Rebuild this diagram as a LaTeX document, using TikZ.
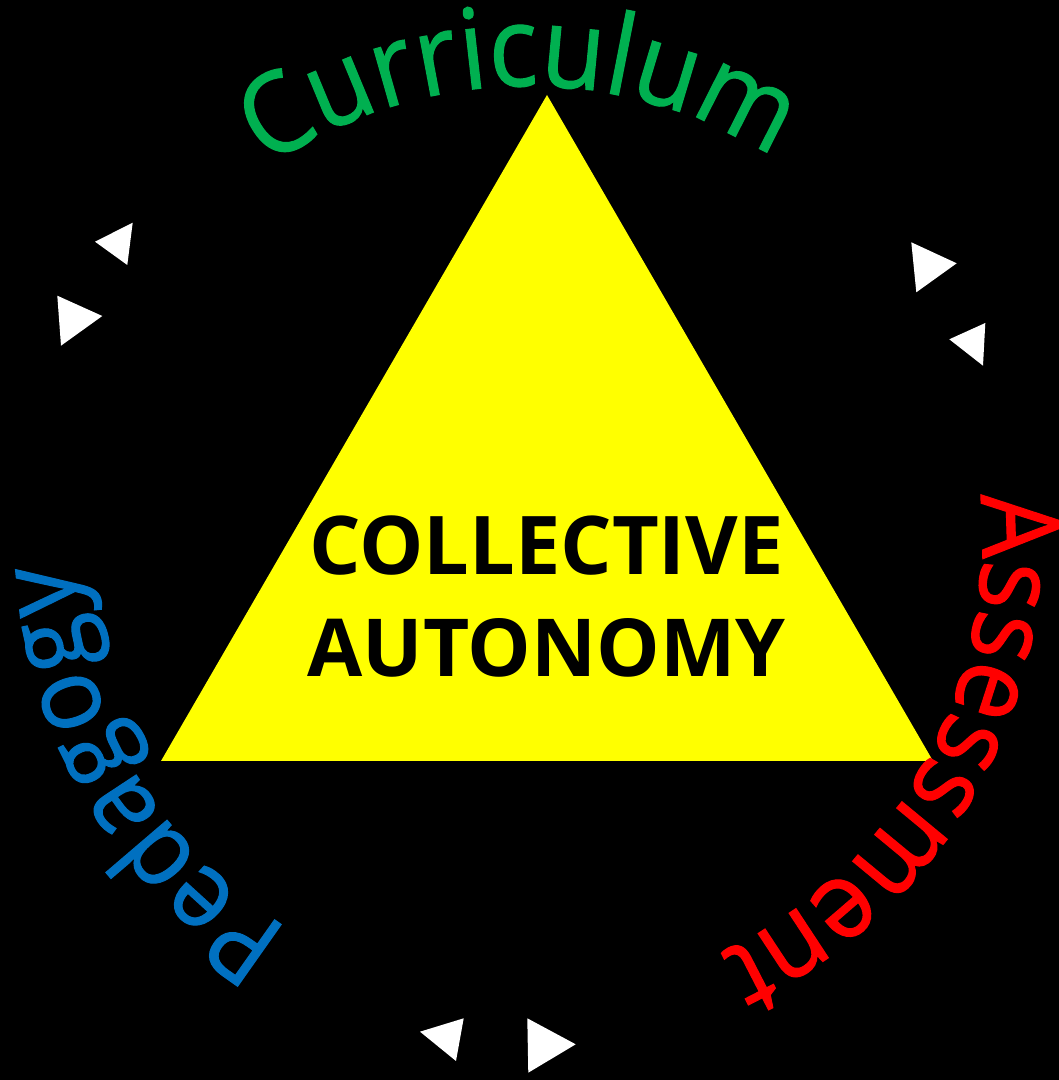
\documentclass[tikz,border=0pt]{standalone}
\usepackage{fontspec}
\setmainfont{Open Sans}
\newfontfamily\arcfont[FakeStretch=0.92,FakeBold=1]{Open Sans}
\usetikzlibrary{decorations.text,calc}
\definecolor{cgreen}{RGB}{0,176,80}
\definecolor{cred}{RGB}{255,0,0}
\definecolor{cblue}{RGB}{0,112,192}
\definecolor{cyellow}{RGB}{255,255,0}
\tikzset{
  arrowtip/.style={fill=white,draw=none},
  centertext/.style={font=\bfseries\fontsize{81}{85}\selectfont,text=black,anchor=base,inner sep=0pt}
}
\begin{document}
\begin{tikzpicture}[x=1pt,y=1pt]
\fill[black] (0,0) rectangle (1059,1080);
\useasboundingbox (0,0) rectangle (1059,1080);
\coordinate (C) at (527,539);
% yellow triangle
\fill[cyellow] (547,985) -- (161,319) -- (933,319) -- cycle;
\node[centertext] (t1) at (546.5,505) {COLLECTIVE};
\node[centertext,font=\bfseries\fontsize{80}{85}\selectfont] (t2) at (546.5,403) {AUTONOMY};
% curved texts
\path[decorate,decoration={text along path,text align=center,
   text={|\arcfont\fontsize{112}{116}\selectfont\color{cgreen}|Curriculum}}]
   ($(C)+(151:455)$) arc[start angle=151,end angle=31,radius=455pt];
\path[decorate,decoration={text along path,text align=center,
   text={|\arcfont\fontsize{110}{114}\selectfont\color{cred}|Assessment}}]
   ($(C)+(30.4:455)$) arc[start angle=30.4,end angle=-89.6,radius=455pt];
\path[decorate,decoration={text along path,text align=center,
   text={|\arcfont\fontsize{106}{110}\selectfont\color{cblue}|Pedagogy}}]
   ($(C)+(-89.3:455)$) arc[start angle=-89.3,end angle=-209.3,radius=455pt];
% white arrowheads
\fill[arrowtip] (95,838.3) -- (132.7,857.3) -- (127.3,815) -- cycle;
\fill[arrowtip] (57.3,784.3) -- (102.3,764) -- (61,734.3) -- cycle;
\fill[arrowtip] (911.3,837.7) -- (956.7,816.7) -- (916.3,787.7) -- cycle;
\fill[arrowtip] (985.3,757) -- (949.3,740.7) -- (983,714.3) -- cycle;
\fill[arrowtip] (420,48.3) -- (463.7,61.7) -- (456,19) -- cycle;
\fill[arrowtip] (527.3,61.7) -- (575.7,35.7) -- (528.3,7.3) -- cycle;
\end{tikzpicture}
\end{document}
